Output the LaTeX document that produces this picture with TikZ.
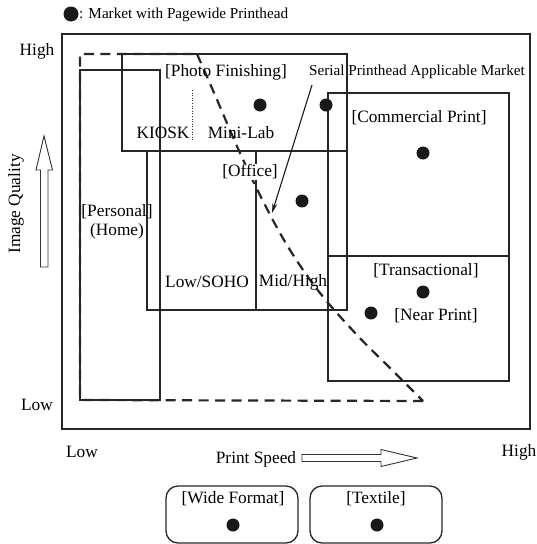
\documentclass[tikz,border=0pt]{standalone}
\usepackage{fontspec}
\setmainfont{Liberation Serif}
\usetikzlibrary{arrows.meta}
\begin{document}
\begin{tikzpicture}[x=1pt,y=-1pt,
  lbl/.style={font=\fontsize{17.3}{19}\selectfont, inner sep=1pt},
  small/.style={font=\fontsize{15.2}{17}\selectfont, inner sep=1pt},
  box/.style={draw=black!85, line width=1.3pt},
  dot/.style={fill=black!90},
  hollow/.style={draw=black!80, line width=0.9pt, fill=white}]
\useasboundingbox (0,0) rectangle (537,544);
% legend
\fill[dot] (71,14) circle (7.5);
\node[small, anchor=west, inner sep=0pt] (legend) at (79,15) {: Market with Pagewide Printhead};
% outer frame
\draw[line width=2.2pt, black!85] (62,34) rectangle (530,429);
\node[lbl] (yhigh) at (37,51) {High};
\node[lbl] (ylow) at (37,405) {Low};
\node[lbl] (xlow) at (82,452) {Low};
\node[lbl] (xhigh) at (519,452) {High};
\node[lbl, rotate=90] (iq) at (16,204) {Image Quality};
\node[lbl] (ps) at (256,459) {Print Speed};
% hollow arrows
\draw[hollow] (40.5,267) -- (40.5,170) -- (36,170) -- (44,136) -- (52.5,170) -- (48,170) -- (48,267) -- cycle;
\draw[hollow] (302,454.5) -- (381,454.5) -- (381,449.5) -- (417,458) -- (381,466.5) -- (381,461.5) -- (302,461.5) -- cycle;
% boxes
\draw[box] (80,70) rectangle (160,400);
\draw[box] (122,54) rectangle (347,151);
\draw[box] (147,151) rectangle (347,310);
\draw[box] (256,151) -- (256,310);
\draw[box] (328,93) rectangle (509,381);
\draw[box] (328,256) -- (509,256);
\draw[black!80, line width=0.6pt, dotted] (192,90) -- (192,140);
% dashed region
\draw[line width=2.2pt, black!85, dash pattern=on 10pt off 6.5pt]
  (423,401) -- (80,400) -- (80,54) -- (197,54)
  plot[smooth, tension=0.6] coordinates {(197,54) (215,95) (240,153) (265,205) (290,250) (320,293) (357,335) (390,368) (423,401)};
% labels
\node[lbl] (pf) at (226,72) {[Photo Finishing]};
\node[lbl] (kiosk) at (163,133) {KIOSK};
\node[lbl] (minilab) at (241,133) {Mini-Lab};
\node[lbl, fill=white, inner sep=0.5pt] (office) at (250,172) {[Office]};
\node[lbl] (personal) at (117,212) {[Personal]};
\node[lbl] (home) at (117,231) {(Home)};
\node[lbl] (soho) at (207,282) {Low/SOHO};
\node[lbl] (midhigh) at (293,282) {Mid/High};
\node[lbl] (cp) at (419,118) {[Commercial Print]};
\node[lbl] (trans) at (426,271) {[Transactional]};
\node[lbl] (near) at (436,316) {[Near Print]};
\node[small] (serial) at (417,72) {Serial Printhead Applicable Market};
\coordinate (tip) at (272,213);
\draw[line width=1.1pt, black!90, -{Stealth[length=10pt,width=5pt]}] (312,85) -- (tip);
% dots
\fill[dot] (260,105) circle (6.5);
\fill[dot] (326,105) circle (6.5);
\fill[dot] (423,153) circle (6.5);
\fill[dot] (302,201) circle (6.5);
\fill[dot] (423,292) circle (6.5);
\fill[dot] (371,313) circle (6.5);
% bottom boxes
\draw[box, rounded corners=12pt] (166,486) rectangle (298,543);
\draw[box, rounded corners=12pt] (310,486) rectangle (442,543);
\node[lbl] (wf) at (233,499) {[Wide Format]};
\node[lbl] (tex) at (376,499) {[Textile]};
\fill[dot] (233,525) circle (6.5);
\fill[dot] (377,525) circle (6.5);
\end{tikzpicture}
\end{document}
